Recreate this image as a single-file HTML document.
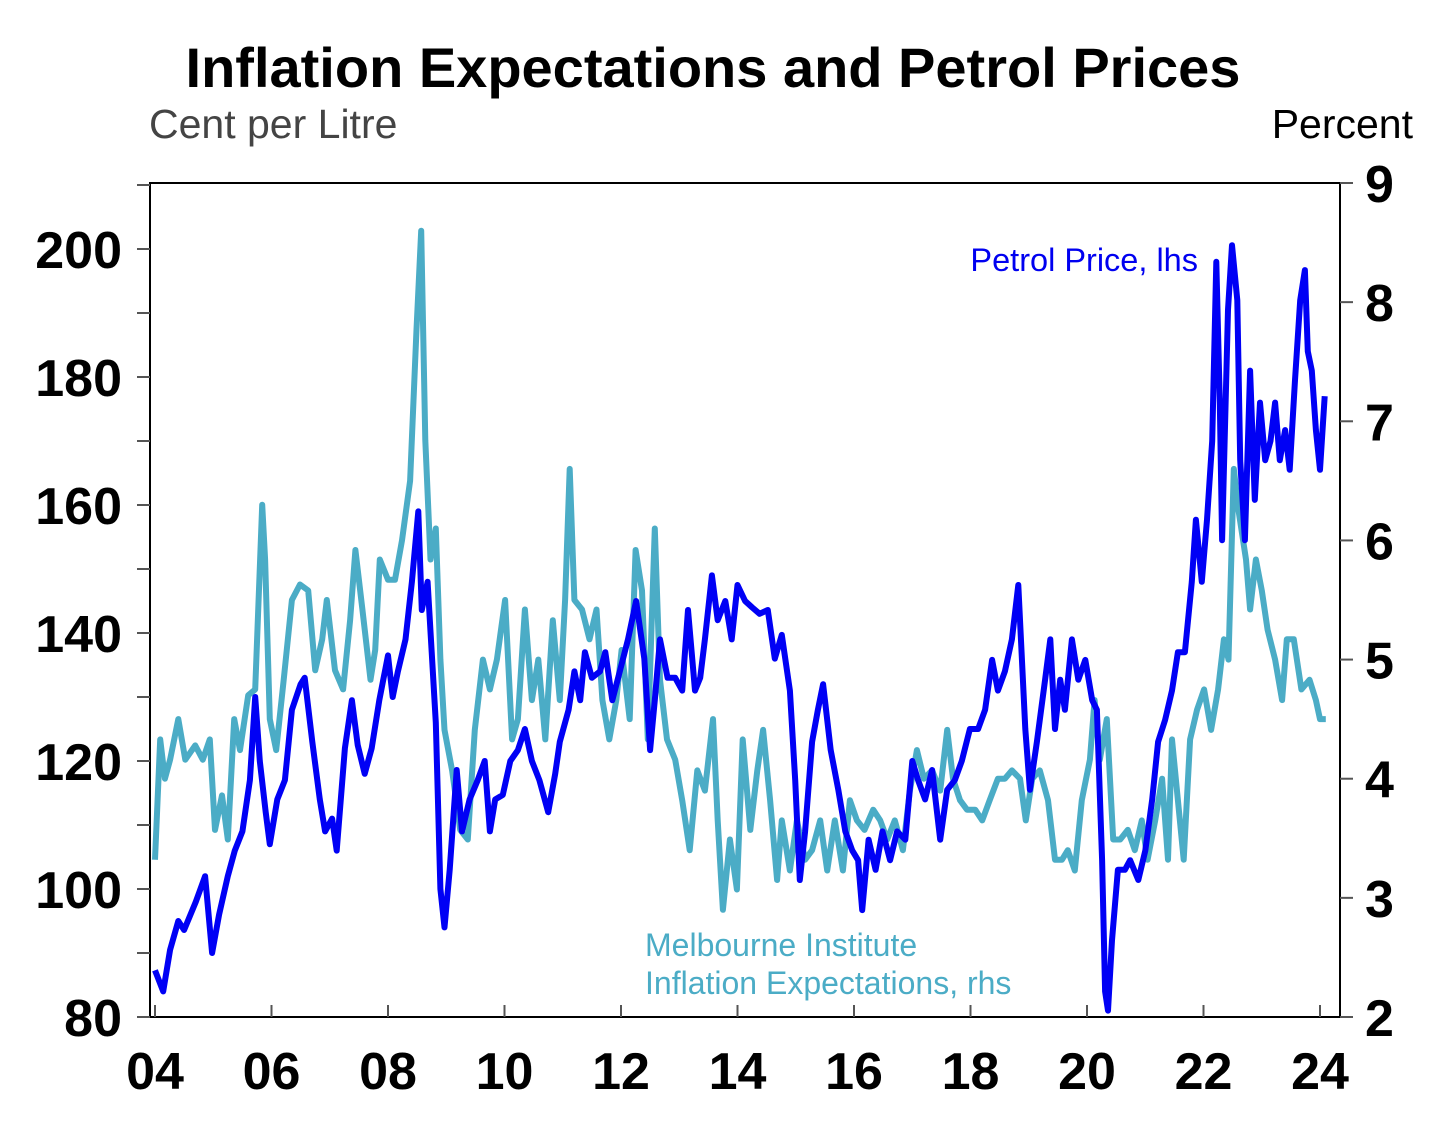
<!DOCTYPE html>
<html><head><meta charset="utf-8"><style>
body{margin:0;background:#fff;}
svg{display:block;font-family:"Liberation Sans",Arial,sans-serif;}
</style></head><body>
<svg id="chart" width="1436" height="1126" viewBox="0 0 1436 1126">
<text x="713" y="87" text-anchor="middle" font-size="56" font-weight="bold">Inflation Expectations and Petrol Prices</text>
<text x="149" y="138" font-size="41" fill="#444">Cent per Litre</text>
<text x="1413" y="138" font-size="41" text-anchor="end">Percent</text>
<g id="axes"></g>
<g id="series"></g>
<text x="1198" y="271" font-size="32.5" text-anchor="end" fill="#0000f0">Petrol Price, lhs</text>
<text x="645" y="956" font-size="32" fill="#4bacc6">Melbourne Institute</text>
<text x="645" y="994" font-size="32" fill="#4bacc6">Inflation Expectations, rhs</text>
</svg>
<script>
const petrolYears=[2004.0,2004.14,2004.26,2004.4,2004.5,2004.7,2004.86,2004.98,2005.1,2005.25,2005.37,2005.5,2005.63,2005.72,2005.8,2005.9,2005.97,2006.1,2006.23,2006.35,2006.5,2006.57,2006.7,2006.83,2006.92,2007.04,2007.12,2007.26,2007.38,2007.48,2007.6,2007.72,2007.85,2008.0,2008.08,2008.17,2008.3,2008.41,2008.52,2008.58,2008.68,2008.75,2008.82,2008.9,2008.97,2009.06,2009.18,2009.27,2009.4,2009.54,2009.66,2009.75,2009.84,2009.97,2010.1,2010.23,2010.35,2010.47,2010.6,2010.75,2010.87,2010.95,2011.1,2011.2,2011.3,2011.38,2011.5,2011.64,2011.73,2011.85,2011.98,2012.12,2012.26,2012.4,2012.5,2012.58,2012.67,2012.8,2012.93,2013.05,2013.15,2013.27,2013.36,2013.44,2013.56,2013.66,2013.79,2013.9,2014.0,2014.13,2014.25,2014.38,2014.52,2014.64,2014.76,2014.9,2014.99,2015.07,2015.16,2015.28,2015.38,2015.47,2015.6,2015.73,2015.85,2015.97,2016.07,2016.14,2016.25,2016.37,2016.49,2016.62,2016.74,2016.88,2017.0,2017.1,2017.22,2017.34,2017.48,2017.6,2017.73,2017.85,2017.99,2018.13,2018.25,2018.37,2018.47,2018.59,2018.71,2018.82,2018.94,2019.02,2019.14,2019.28,2019.37,2019.45,2019.54,2019.62,2019.74,2019.85,2019.97,2020.09,2020.17,2020.26,2020.31,2020.36,2020.43,2020.53,2020.65,2020.74,2020.88,2021.0,2021.12,2021.22,2021.34,2021.46,2021.56,2021.68,2021.8,2021.87,2021.97,2022.06,2022.15,2022.22,2022.28,2022.32,2022.42,2022.49,2022.58,2022.63,2022.71,2022.8,2022.88,2022.97,2023.06,2023.15,2023.23,2023.31,2023.4,2023.48,2023.57,2023.66,2023.74,2023.79,2023.86,2023.93,2024.0,2024.08];
const petrolValues=[87.3,84,90.5,95,93.6,98,102,90,96,102,106,109,117,130,120,112,107,114,117,128,132,133,123,114,109,111,106,122,129.5,122.5,118,122,129.5,136.5,130,134,139,148,159,143.6,148,137,126,100,94,103,118.6,109,114,117,120,109,114,114.7,120,121.7,125,120,117,112,118,123,128,134,129.5,137,133,134,137,129.5,134,139,145,136,121.7,129.5,139,133,133,131,143.6,131,133,139,149,142,145,139,147.5,145,144,143,143.6,136,139.7,131,117,101.4,109,123,128,132,121.7,115.5,109,106,104.5,96.7,107.7,103,109,104.5,109,107.7,120,117,114,118.6,107.7,115.5,117,120,125,125,128,135.8,131,134,139,147.5,125,115.5,123,132.7,139,125,132.7,128,139,132.7,135.8,129.5,128,104.5,84,81,92,103,103,104.5,101.4,106,114,123,126.4,131,137,137,148,157.7,148,157.7,170,198,176,154.5,190.5,200.6,192,167,154.5,181,160.8,176,167,170,176,167,171.7,165.5,179.5,192,196.7,184,181,171.7,165.5,177];
const inflYears=[2004.0,2004.09,2004.17,2004.26,2004.4,2004.52,2004.69,2004.82,2004.94,2005.03,2005.15,2005.25,2005.36,2005.46,2005.6,2005.72,2005.84,2005.89,2005.97,2006.08,2006.21,2006.35,2006.49,2006.63,2006.75,2006.87,2006.95,2007.09,2007.23,2007.35,2007.44,2007.56,2007.7,2007.78,2007.86,2008.0,2008.12,2008.24,2008.38,2008.49,2008.57,2008.64,2008.73,2008.82,2008.9,2008.97,2009.1,2009.24,2009.37,2009.49,2009.63,2009.75,2009.87,2010.01,2010.13,2010.23,2010.35,2010.47,2010.58,2010.7,2010.83,2010.95,2011.04,2011.12,2011.2,2011.33,2011.46,2011.58,2011.68,2011.8,2011.92,2012.01,2012.15,2012.25,2012.36,2012.46,2012.58,2012.67,2012.79,2012.93,2013.05,2013.18,2013.31,2013.44,2013.58,2013.66,2013.75,2013.87,2013.99,2014.09,2014.22,2014.34,2014.44,2014.56,2014.68,2014.76,2014.9,2015.02,2015.16,2015.28,2015.42,2015.54,2015.67,2015.81,2015.93,2016.05,2016.18,2016.33,2016.45,2016.57,2016.7,2016.84,2016.96,2017.08,2017.2,2017.34,2017.48,2017.6,2017.7,2017.82,2017.94,2018.08,2018.2,2018.33,2018.47,2018.59,2018.71,2018.85,2018.95,2019.06,2019.19,2019.33,2019.45,2019.57,2019.67,2019.79,2019.91,2020.05,2020.13,2020.22,2020.34,2020.45,2020.57,2020.7,2020.82,2020.94,2021.04,2021.17,2021.29,2021.39,2021.46,2021.56,2021.66,2021.77,2021.89,2022.01,2022.13,2022.25,2022.35,2022.43,2022.52,2022.6,2022.73,2022.8,2022.9,2023.0,2023.1,2023.23,2023.35,2023.43,2023.55,2023.68,2023.82,2023.93,2024.0,2024.1];
const inflValues=[3.32,4.33,4.0,4.16,4.5,4.16,4.28,4.16,4.33,3.57,3.86,3.49,4.5,4.24,4.7,4.75,6.3,5.84,4.5,4.24,4.83,5.5,5.63,5.58,4.91,5.17,5.5,4.91,4.75,5.33,5.92,5.42,4.83,5.08,5.84,5.67,5.67,6.0,6.5,7.77,8.6,6.84,5.84,6.1,5.0,4.41,4.07,3.57,3.49,4.41,5.0,4.75,5.0,5.5,4.33,4.5,5.42,4.66,5.0,4.33,5.33,4.66,5.5,6.6,5.5,5.42,5.17,5.42,4.66,4.33,4.66,5.08,4.5,5.92,5.58,4.33,6.1,4.83,4.33,4.16,3.82,3.4,4.07,3.9,4.5,3.65,2.9,3.49,3.07,4.33,3.57,4.07,4.41,3.82,3.15,3.65,3.23,3.65,3.32,3.4,3.65,3.23,3.65,3.23,3.82,3.65,3.57,3.74,3.65,3.49,3.65,3.4,3.9,4.24,4.0,4.07,3.9,4.41,4.0,3.82,3.74,3.74,3.65,3.82,4.0,4.0,4.07,4.0,3.65,4.0,4.07,3.82,3.32,3.32,3.4,3.23,3.82,4.16,4.66,4.16,4.5,3.49,3.49,3.57,3.4,3.65,3.32,3.65,4.0,3.32,4.33,3.82,3.32,4.33,4.58,4.75,4.41,4.75,5.17,5.0,6.6,6.26,5.84,5.42,5.84,5.58,5.25,5.0,4.66,5.17,5.17,4.75,4.83,4.66,4.5,4.5];
const leftTicks=[80,100,120,140,160,180,200];
const rightTicks=[2,3,4,5,6,7,8,9];
const xTickYears=[2004,2006,2008,2010,2012,2014,2016,2018,2020,2022,2024];
const xTickLabels=["04","06","08","10","12","14","16","18","20","22","24"];

const NS="http://www.w3.org/2000/svg";
const L=150,R=1340,T=183,B=1017;
const xS=y=>155+(y-2004)*58.25;
const yL=v=>B-(v-80)*6.4;
const yR=v=>B-(v-2)*(B-T)/7;
function mk(tag,attrs,parent){const e=document.createElementNS(NS,tag);for(const k in attrs)e.setAttribute(k,attrs[k]);parent.appendChild(e);return e;}
const axes=document.getElementById('axes'), ser=document.getElementById('series');
let f=mk('rect',{x:L,y:T,width:R-L,height:B-T,fill:'none',stroke:'#000','stroke-width':2},axes);


for(let v=80;v<=210;v+=10){let t=mk('line',{x1:137,x2:L,y1:yL(v),y2:yL(v),stroke:'#555','stroke-width':2},axes);

}
leftTicks.forEach(v=>{let t=mk('text',{x:122,y:yL(v)+19,'text-anchor':'end','font-size':52,'font-weight':'bold'},axes);t.textContent=v;

});
rightTicks.forEach(v=>{let l=mk('line',{x1:R,x2:1353,y1:yR(v),y2:yR(v),stroke:'#555','stroke-width':2},axes);


let t=mk('text',{x:1365,y:yR(v)+19,'font-size':52,'font-weight':'bold'},axes);t.textContent=v;

});
xTickYears.forEach((yr,i)=>{let l=mk('line',{x1:xS(yr),x2:xS(yr),y1:B,y2:B-12,stroke:'#555','stroke-width':2},axes);


let t=mk('text',{x:xS(yr),y:1089,'text-anchor':'middle','font-size':52,'font-weight':'bold'},axes);t.textContent=xTickLabels[i];

});
function path(xs,vs,ys){return xs.map((x,i)=>(i?'L':'M')+xS(x).toFixed(1)+','+ys(vs[i]).toFixed(1)).join('');}
let p1=mk('path',{d:path(inflYears,inflValues,yR),fill:'none',stroke:'#4bacc6','stroke-width':6,'stroke-linejoin':'round'},ser);


let p2=mk('path',{d:path(petrolYears,petrolValues,yL),fill:'none',stroke:'#0000f5','stroke-width':6,'stroke-linejoin':'round'},ser);


</script>
</body></html>
